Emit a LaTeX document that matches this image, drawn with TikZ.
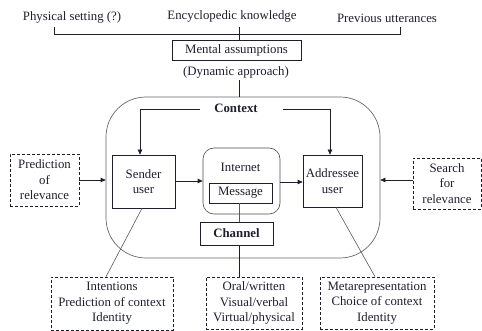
\documentclass[tikz,border=0pt]{standalone}
\usepackage{fontspec}
\setmainfont{Liberation Serif}
\usetikzlibrary{arrows.meta}
\definecolor{ink}{HTML}{1E1E2E}
\begin{document}
\begin{tikzpicture}[x=1pt,y=-1pt,
  every node/.style={font=\fontsize{12.8}{15.5}\selectfont, text=ink, inner sep=0pt, align=center},
  box/.style={draw=ink, line width=0.7pt, rectangle},
  dbox/.style={draw=ink, line width=0.6pt, densely dashed, rectangle},
  conn/.style={draw=ink, line width=0.7pt},
  arr/.style={conn, -{Triangle[length=5pt,width=4.5pt]}},
  thin/.style={draw=black!65, line width=0.6pt}]
\useasboundingbox (0,0) rectangle (482,331);
% top texts
\node (phys) at (72,17) {Physical setting (?)};
\node (ency) at (232,16) {Encyclopedic knowledge};
\node (prev) at (387,18) {Previous utterances};
\coordinate (bl) at (54,27);
\coordinate (bm) at (239,27);
\coordinate (br) at (400,27);
\node[box, minimum width=129pt, minimum height=20pt] (mental) at (236.5,50) {Mental assumptions};
\node (dyn) at (236,72) {(Dynamic approach)};
% context
\node[draw=black!60, line width=0.7pt, rounded corners=40pt, minimum width=274pt, minimum height=161pt] (ctx) at (243,177.5) {};
\node[font=\fontsize{12.8}{15.5}\selectfont\bfseries] (ctxl) at (236,108) {Context};
\node[box, minimum width=63pt, minimum height=53pt] (send) at (143.5,181.5) {Sender\\user};
\node[draw=black!70, line width=0.6pt, rounded corners=11pt, minimum width=77pt, minimum height=66pt] (net) at (241.5,181) {};
\node (netl) at (240.5,167) {Internet};
\node[box, minimum width=63pt, minimum height=20pt] (msg) at (240.5,193) {Message};
\node[box, minimum width=59pt, minimum height=52pt] (addr) at (332.5,181) {Addressee\\user};
\node[dbox, minimum width=69pt, minimum height=52pt] (pred) at (44.5,180) {Prediction\\of\\relevance};
\node[dbox, minimum width=68pt, minimum height=51pt] (search) at (447,183.5) {Search\\for\\relevance};
\node[box, minimum width=73pt, minimum height=23pt, font=\fontsize{12.8}{15.5}\selectfont\bfseries] (chan) at (236.5,233.5) {Channel};
% bottom boxes
\node[dbox, minimum width=122pt, minimum height=53pt] (bleft) at (112,303.5) {Intentions\\Prediction of context\\Identity};
\node[dbox, minimum width=96pt, minimum height=52pt] (bmid) at (254,303) {Oral/written\\Visual/verbal\\Virtual/physical};
\node[dbox, minimum width=114pt, minimum height=52pt] (bright) at (377,303) {Metarepresentation\\Choice of context\\Identity};
% connectors
\draw[conn] (bl) |- (br |- 0,34) -- (br);
\draw[conn] (bm) -- (bm |- mental.north);
\draw[conn] (239,80) coordinate (dynb) -- (dynb |- ctx.north);
\draw[arr] (200,109) coordinate (cl) -| (send.north -| 140,0);
\draw[arr] (283,109) coordinate (cr) -| (addr.north -| 330,0);
\draw[arr] (send.east |- 0,181) -- (net.west |- 0,181);
\draw[arr] (net.east |- 0,182) -- (addr.west |- 0,182);
\draw[arr] (pred.east |- 0,180) -- (ctx.west |- 0,180);
\draw[arr] (search.west |- 0,180) -- (ctx.east |- 0,180);
\draw[thin] (msg.south -| 239,0) -- (chan.north -| 239,0);
\draw[conn] (chan.south -| 239,0) -- (bmid.north -| 239,0);
\draw[thin] (send.south -| 142,0) -- (bleft.north -| 106,0);
\draw[thin] (addr.south -| 336,0) -- (bright.north -| 375,0);
\end{tikzpicture}
\end{document}
